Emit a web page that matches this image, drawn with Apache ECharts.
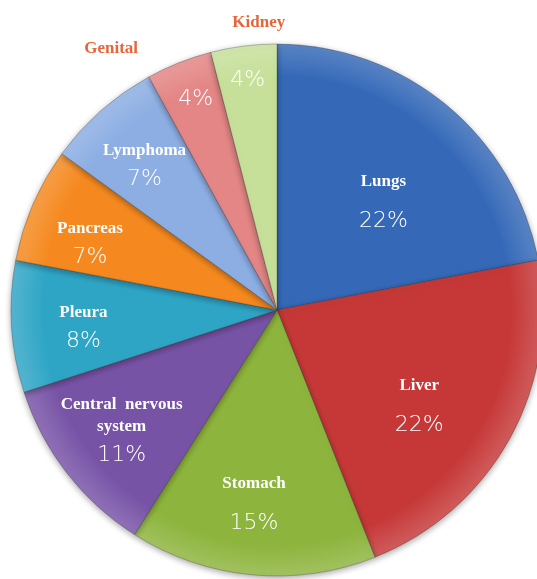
<!DOCTYPE html>
<html>
<head>
<meta charset="utf-8">
<script src="https://cdn.jsdelivr.net/npm/echarts@6/dist/echarts.min.js"></script>
<style>
  html, body { margin: 0; padding: 0; background: #fff; }
  #main { width: 537px; height: 579px; }
</style>
</head>
<body>
<div id="main"></div>
<script>
var categories = ["Lungs", "Liver", "Stomach", "Central nervous system", "Pleura", "Pancreas", "Lymphoma", "Genital", "Kidney"];
var values = [22, 22, 15, 11, 8, 7, 7, 4, 4];
var outsideNames = ["Genital", "Kidney"];

var colors = ["#3569b8", "#c63838", "#8db43c", "#7753a6", "#2fa5c6", "#f5891f", "#8caee3", "#e38685", "#c6e09a"];

// label placement: fraction of radius, angle nudge (deg), vertical nudge (px)
var labelDist = [0.58, 0.64, 0.72, 0.72, 0.73, 0.75, 0.74, 0.86, 0.88];
var labelTurn = [4, 4.5, 1.5, 2, -0.8, -3, -0.9, 0.8, 0];
var labelDy = [12, 11, 12, 11, 5, 6, 4, 3, 3];
var nameDist = [0, 0, 0, 0, 0, 0, 0, 1.17, 1.09];
var nameTurn = [0, 0, 0, 0, 0, 0, 0, -10.6, 3.6];

var cx = 277, cy = 310, R = 266;

var total = values.reduce(function (a, b) { return a + b; }, 0);
var midAngle = [];
var acc = 0;
values.forEach(function (v) {
  midAngle.push((acc + v / 2) / total * 360);
  acc += v;
});

function polar(deg, dist) {
  var a = deg * Math.PI / 180;
  return { x: cx + dist * Math.sin(a), y: cy - dist * Math.cos(a) };
}

function shade(c) {
  return {
    type: "radial", x: cx, y: cy, r: R, global: true,
    colorStops: [
      { offset: 0, color: c },
      { offset: 0.88, color: c },
      { offset: 1, color: echarts.color.lift(c, 0.18) }
    ]
  };
}

var pieData = categories.map(function (name, i) {
  return { name: name, value: values[i], itemStyle: { color: shade(colors[i]) } };
});

var chartDom = document.getElementById("main");
var myChart = echarts.init(chartDom);
var option;

option = {
  backgroundColor: "#fff",
  animation: false,
  series: [
    {
      type: "pie",
      center: [cx, cy],
      radius: R,
      startAngle: 90,
      data: pieData,
      itemStyle: {
        borderColor: "rgba(40,40,40,0.35)",
        borderWidth: 0.8,
        shadowBlur: 6,
        shadowColor: "rgba(0,0,0,0.35)",
        shadowOffsetY: 2
      },
      label: {
        show: true,
        position: "inside",
        color: "#fff",
        align: "center",
        formatter: function (p) {
          var pct = "{p|" + p.value + "%}";
          if (outsideNames.indexOf(p.name) >= 0) return pct;
          var nm = "{n|" + p.name.replace("nervous ", " nervous\n") + "}";
          var big = p.value >= 15;
          return nm + "\n" + (big ? "{pb|" + p.value + "%}" : "{ps|" + p.value + "%}");
        },
        rich: {
          n: { fontFamily: "Liberation Serif", fontWeight: "bold", fontSize: 17, color: "#fff", lineHeight: 22, align: "center" },
          p: { fontFamily: "DejaVu Sans", fontWeight: 200, fontSize: 22, color: "#fff", lineHeight: 24, align: "center" },
          pb: { fontFamily: "DejaVu Sans", fontWeight: 200, fontSize: 22, color: "#fff", lineHeight: 58, align: "center" },
          ps: { fontFamily: "DejaVu Sans", fontWeight: 200, fontSize: 22, color: "#fff", lineHeight: 35, align: "center" }
        }
      },
      labelLine: { show: false },
      labelLayout: function (params) {
        var i = params.dataIndex;
        var pt = polar(midAngle[i] + labelTurn[i], labelDist[i] * R);
        return { x: pt.x, y: pt.y + labelDy[i], align: "center", verticalAlign: "middle" };
      }
    },
    {
      type: "pie",
      center: [cx, cy],
      radius: R,
      startAngle: 90,
      silent: true,
      z: 3,
      data: categories.map(function (name, i) {
        return {
          name: name,
          value: values[i],
          label: { show: outsideNames.indexOf(name) >= 0 }
        };
      }),
      itemStyle: { color: "rgba(0,0,0,0)" },
      label: {
        position: "outside",
        formatter: "{b}",
        fontFamily: "Liberation Serif",
        fontWeight: "bold",
        fontSize: 17,
        color: "#e8653a"
      },
      labelLine: { show: false },
      labelLayout: function (params) {
        var i = params.dataIndex;
        var pt = polar(midAngle[i] + nameTurn[i], nameDist[i] * R);
        return { x: pt.x, y: pt.y + 2, align: "center", verticalAlign: "middle" };
      }
    }
  ]
};

option && myChart.setOption(option);
window.addEventListener("resize", function () {
  myChart.resize();
});
</script>
</body>
</html>
